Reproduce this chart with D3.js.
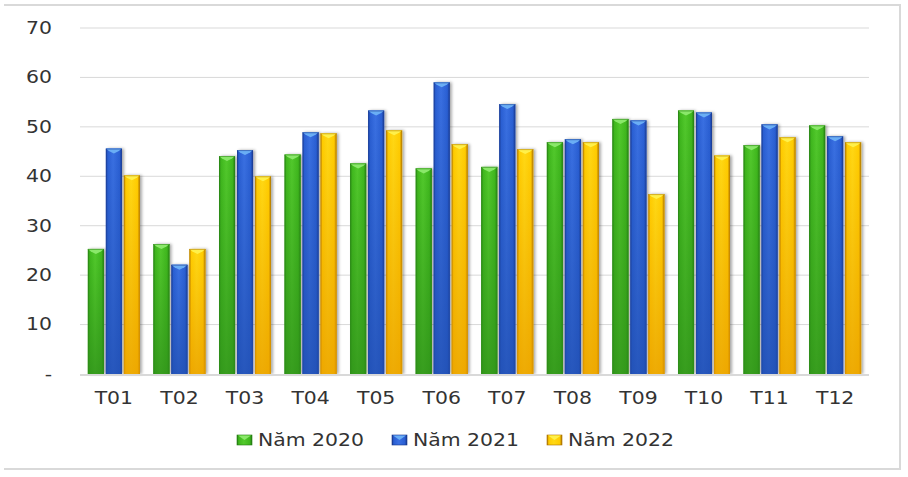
<!DOCTYPE html>
<html>
<head>
<meta charset="utf-8">
<script src="https://cdn.jsdelivr.net/npm/d3@7"></script>
<style>
    body { margin: 0; background: #fff; }
    svg text { font-family: "DejaVu Sans", sans-serif; font-size: 17px; fill: #333; }
</style>
</head>
<body>
<svg id="chart" width="908" height="477"></svg>
<script>
let months = ['T01', 'T02', 'T03', 'T04', 'T05', 'T06', 'T07', 'T08', 'T09', 'T10', 'T11', 'T12'];
let seriesNames = ['Năm 2020', 'Năm 2021', 'Năm 2022'];
let values2020 = [25.3, 26.3, 44.1, 44.4, 42.6, 41.6, 41.9, 46.9, 51.6, 53.3, 46.3, 50.3];
let values2021 = [45.6, 22.1, 45.3, 48.9, 53.3, 59.0, 54.6, 47.5, 51.3, 52.9, 50.5, 48.1];
let values2022 = [40.2, 25.3, 40.0, 48.7, 49.3, 46.5, 45.5, 46.9, 36.4, 44.2, 47.9, 46.9];
let yTicks = [0, 10, 20, 30, 40, 50, 60, 70];

let palette = {
    'Năm 2020': { dark: '#237a12', mid: '#3fb71d', light: '#52c92c', bottom: '#2f8f1a', bevel: '#8ae86a' },
    'Năm 2021': { dark: '#17368a', mid: '#2a5fd3', light: '#3a70e2', bottom: '#214fb0', bevel: '#6aaef5' },
    'Năm 2022': { dark: '#a86e00', mid: '#ffcc00', light: '#ffd814', bottom: '#e89c00', bevel: '#fff04a' }
};

let allValues = [values2020, values2021, values2022];
let svg = d3.select('#chart');
let defs = svg.append('defs');

let shadow = defs.append('filter').attr('id', 'shadow')
    .attr('x', '-30%').attr('y', '-5%').attr('width', '160%').attr('height', '110%');
shadow.append('feDropShadow')
    .attr('dx', 2).attr('dy', 0).attr('stdDeviation', 1.5)
    .attr('flood-color', '#000').attr('flood-opacity', 0.35);

seriesNames.forEach((name, i) => {
    let c = palette[name];
    let g = defs.append('linearGradient').attr('id', 'side' + i)
        .attr('x1', '0%').attr('x2', '100%').attr('y1', '0%').attr('y2', '0%');
    [[0, c.dark], [0.12, c.mid], [0.45, c.light], [0.85, c.mid], [1, c.dark]].forEach(s => {
        g.append('stop').attr('offset', s[0]).attr('stop-color', s[1]);
    });
    let v = defs.append('linearGradient').attr('id', 'fade' + i)
        .attr('x1', '0%').attr('x2', '0%').attr('y1', '0%').attr('y2', '100%');
    v.append('stop').attr('offset', 0).attr('stop-color', c.bottom).attr('stop-opacity', 0);
    v.append('stop').attr('offset', 1).attr('stop-color', c.bottom).attr('stop-opacity', 0.75);
});

// frame
let frame = svg.append('g').attr('stroke', '#d9d9d9').attr('stroke-width', 2).attr('fill', 'none');
frame.append('path').attr('d', 'M4,5 H900 V469 H4');

let x = d3.scaleBand().domain(months).range([80, 869]).paddingInner(0.207).paddingOuter(0.12);
let xInner = d3.scaleBand().domain(seriesNames).range([0, x.bandwidth()]).paddingInner(0.11);
let y = d3.scaleLinear().domain([0, 70]).range([374, 28]);

// grid
svg.append('g').selectAll('line').data(yTicks.filter(t => t > 0)).join('line')
    .attr('x1', 80).attr('x2', 869)
    .attr('y1', d => y(d)).attr('y2', d => y(d))
    .attr('stroke', '#d9d9d9').attr('stroke-width', 1);

// y labels
svg.append('g').selectAll('text').data(yTicks).join('text')
    .attr('transform', d => `translate(52,${y(d)}) scale(1.2,1)`)
    .attr('text-anchor', 'end').attr('dominant-baseline', 'central')
    .text(d => d === 0 ? '-' : d);

// bars
let groups = svg.append('g').selectAll('g').data(months).join('g')
    .attr('transform', d => `translate(${x(d)},0)`);

groups.each(function(month, mi) {
    let grp = d3.select(this);
    seriesNames.forEach((name, si) => {
        let val = allValues[si][mi];
        let bx = xInner(name);
        let bw = xInner.bandwidth();
        let top = y(val);
        let h = y(0) - top;
        grp.append('rect').attr('x', bx).attr('y', top).attr('width', bw).attr('height', h)
            .attr('fill', palette[name].mid).attr('filter', 'url(#shadow)');
        grp.append('rect').attr('x', bx).attr('y', top).attr('width', bw).attr('height', h)
            .attr('fill', `url(#side${si})`);
        grp.append('rect').attr('x', bx).attr('y', top).attr('width', bw).attr('height', h)
            .attr('fill', `url(#fade${si})`);
        grp.append('path')
            .attr('d', `M${bx},${top} H${bx + bw} L${bx + bw - 3},${top + 2.5} L${bx + bw / 2},${top + 5} L${bx + 3},${top + 2.5} Z`)
            .attr('fill', palette[name].bevel);
        grp.append('line').attr('x1', bx).attr('x2', bx + bw).attr('y1', top + 0.5).attr('y2', top + 0.5)
            .attr('stroke', palette[name].dark).attr('stroke-opacity', 0.5);
    });
});

// x axis line
svg.append('line').attr('x1', 80).attr('x2', 869).attr('y1', y(0) + 1).attr('y2', y(0) + 1)
    .attr('stroke', '#d9d9d9').attr('stroke-width', 2);

// x labels
svg.append('g').selectAll('text').data(months).join('text')
    .attr('transform', d => `translate(${x(d) + x.bandwidth() / 2},398) scale(1.2,1)`)
    .attr('text-anchor', 'middle').attr('dominant-baseline', 'central')
    .text(d => d);

// legend
let legendX = d3.scalePoint().domain(seriesNames).range([237, 547]);
let legend = svg.append('g').selectAll('g').data(seriesNames).join('g')
    .attr('transform', d => `translate(${legendX(d)},440)`);
legend.append('rect').attr('x', 0).attr('y', -5).attr('width', 15).attr('height', 10)
    .attr('fill', (d, i) => `url(#side${i})`).attr('stroke', d => palette[d].dark).attr('stroke-width', 0.6);
legend.append('path').attr('d', 'M1,-4.5 H14 L7.5,0 Z').attr('fill', d => palette[d].bevel);
legend.append('text').attr('transform', 'translate(21,0) scale(1.2,1)')
    .attr('dominant-baseline', 'central').text(d => d);
</script>
</body>
</html>
